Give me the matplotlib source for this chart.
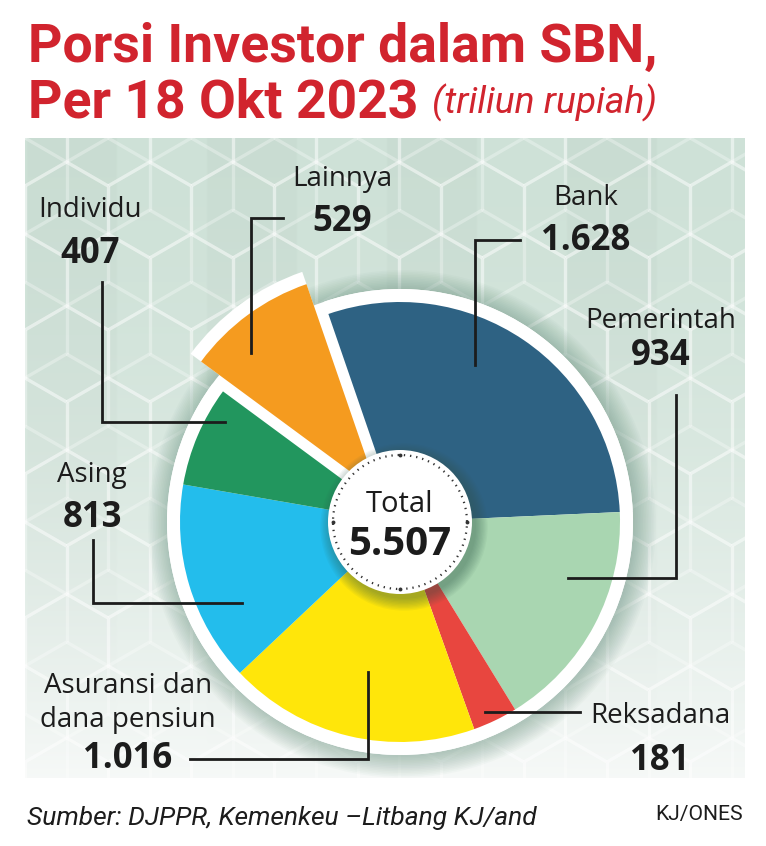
import numpy as np
import matplotlib
matplotlib.use('Agg')
import matplotlib.pyplot as plt
from matplotlib import font_manager as fm
from matplotlib.patches import Circle, Rectangle
from matplotlib.collections import LineCollection

# data
labels = ['Bank', 'Pemerintah', 'Reksadana', 'Asuransi dan\ndana pensiun', 'Asing', 'Individu', 'Lainnya']
values = [1628, 934, 181, 1016, 813, 407, 529]
value_text = ['1.628', '934', '181', '1.016', '813', '407', '529']
colors = ['#2e6283', '#a9d6b1', '#e8463f', '#ffe60a', '#23bdec', '#22965e', '#f59b1f']
total_text = '5.507'

W, H = 766, 846
names = {f.name for f in fm.fontManager.ttflist}
narrow = 'Liberation Sans Narrow' if 'Liberation Sans Narrow' in names else 'Roboto'
body = 'Open Sans' if 'Open Sans' in names else 'DejaVu Sans'
red = '#d1242e'
ink = '#1c1c1c'

fig = plt.figure(figsize=(W / 100, H / 100), dpi=100)
ax = fig.add_axes([0, 0, 1, 1])
ax.set_xlim(0, W)
ax.set_ylim(0, H)
ax.axis('off')


def Y(y):
    return H - y


# background panel with gradient and faint bands
x0, x1, y0, y1 = 25, 745, 138, 778
ny, nx = 320, 360
t = np.clip(np.linspace(0, 1, ny), 0, 1) ** 1.8
top = np.array([0.80, 0.875, 0.835])
bot = np.array([0.965, 0.975, 0.97])
img = top[None, None, :] * (1 - t[:, None, None]) + bot[None, None, :] * t[:, None, None]
img = np.repeat(img, nx, axis=1)
xs = np.linspace(x0, x1, nx)
band = ((xs - 27) // 90).astype(int) % 2
img = img + (band[None, :, None] * 0.018 - 0.009) * (1 - t[:, None, None])
ax.imshow(np.clip(img, 0, 1), extent=[x0, x1, Y(y1), Y(y0)], aspect='auto', zorder=0, interpolation='bilinear')

# cube pattern
R = 48
segs = []
dx = np.sqrt(3) * R
for row in range(-1, 12):
    for col in range(-1, 11):
        cx = x0 + col * dx + (dx / 2 if row % 2 else 0)
        cy = y0 + row * 1.5 * R
        vs = [(cx + R * np.cos(np.radians(a)), cy + R * np.sin(np.radians(a))) for a in range(30, 390, 60)]
        for i in range(6):
            segs.append([(vs[i][0], Y(vs[i][1])), (vs[(i + 1) % 6][0], Y(vs[(i + 1) % 6][1]))])
        for a in (90, 210, 330):
            segs.append([(cx, Y(cy)), (cx + R * np.cos(np.radians(a)), Y(cy - R * np.sin(np.radians(a))))])
lc = LineCollection(segs, colors='white', linewidths=2.4, alpha=0.3, zorder=1)
ax.add_collection(lc)
lc.set_clip_path(Rectangle((x0, Y(y1)), x1 - x0, y1 - y0, transform=ax.transData))

# pie
cx, cy = 400, Y(522)
for k in range(14):
    ax.add_patch(Circle((cx + 2, cy - 2), 233 + 1.6 * k, color='#4d7f68', alpha=0.03, lw=0, zorder=2))
ax.add_patch(Circle((cx, cy), 233, color='white', lw=0, zorder=3))
explode = [0, 0, 0, 0, 0, 0, 37]
ax.pie(values, radius=233, center=(cx, cy), startangle=109, counterclock=False,
       colors=['white'] * 7, explode=explode, frame=True,
       wedgeprops=dict(linewidth=0, zorder=3))
ax.pie(values, radius=220, center=(cx, cy), startangle=109, counterclock=False,
       colors=colors, explode=explode, frame=True,
       wedgeprops=dict(linewidth=0, zorder=4))

# center circle
for k in range(10):
    ax.add_patch(Circle((cx + 4, cy - 5), 72 + 1.3 * k, color='#2f5a4a', alpha=0.05, lw=0, zorder=5))
ax.add_patch(Circle((cx, cy), 72, color='white', lw=0, zorder=6))
ax.add_patch(Circle((cx, cy), 67, fill=False, ec='#333333', lw=1.6, ls=(0, (0.6, 2.2)), zorder=7))
for a in (0, 90, 180, 270):
    ax.plot(cx + 67 * np.cos(np.radians(a)), cy + 67 * np.sin(np.radians(a)), 'o', ms=2.8,
            mew=0, color='#333333', zorder=7)
ax.text(cx, Y(512), 'Total', ha='center', va='baseline', fontsize=21, family=body, color=ink, zorder=8)
ax.text(cx, Y(555), total_text, ha='center', va='baseline', fontsize=29, weight='bold', family=body, color=ink, zorder=8)

# labels: centre x, name baseline, value baseline
lab_pos = [(586, 205, 250), (661, 328, 365), (660, 723, 770), (128, 693, 768),
           (92, 482, 527), (90, 217, 263), (342, 186, 231)]
for name, vt, (lx, ny_, vy) in zip(labels, value_text, lab_pos):
    if '\n' in name:
        l1, l2 = name.split('\n')
        ax.text(lx, Y(ny_), l1, ha='center', va='baseline', fontsize=20, family=body, color=ink, zorder=8)
        ax.text(lx, Y(727), l2, ha='center', va='baseline', fontsize=20, family=body, color=ink, zorder=8)
    else:
        ax.text(lx, Y(ny_), name, ha='center', va='baseline', fontsize=20, family=body, color=ink, zorder=8)
    ax.text(lx, Y(vy), vt, ha='center', va='baseline', fontsize=25, weight='bold', family=body, color=ink, zorder=8)

# leader lines
leaders = [
    [(520, 240), (475, 240), (475, 365)],
    [(676, 395), (676, 578), (568, 578)],
    [(580, 712), (485, 712)],
    [(190, 759), (368, 759), (368, 672)],
    [(93, 540), (93, 603), (242, 603)],
    [(102, 282), (102, 422), (225, 422)],
    [(283, 218), (251, 218), (251, 353)],
]
for pts in leaders:
    ax.plot([p[0] for p in pts], [Y(p[1]) for p in pts], color=ink, lw=2.0, zorder=9, solid_joinstyle='miter')

# titles
t1 = ax.text(28, Y(62), 'Porsi Investor dalam SBN,', ha='left', va='baseline', fontsize=40,
             weight='bold', family=narrow, color=red)
t2 = ax.text(28, Y(117), 'Per 18 Okt 2023', ha='left', va='baseline', fontsize=40,
             weight='bold', family=narrow, color=red)
t3 = ax.text(432, Y(113), '(triliun rupiah)', ha='left', va='baseline', fontsize=24,
             style='italic', family=narrow, color=red)
s1 = ax.text(27, Y(825), 'Sumber: DJPPR, Kemenkeu \u2013Litbang KJ/and', ha='left', va='baseline',
             fontsize=20, style='italic', family=narrow, color=ink)
s2 = ax.text(743, Y(820), 'KJ/ONES', ha='right', va='baseline', fontsize=16, family=narrow, color=ink)

r = fig.canvas.get_renderer()
for txt, wpx in ((t1, 629), (t3, 226), (s1, 511), (s2, 88)):
    bb = txt.get_window_extent(r)
    txt.set_fontsize(txt.get_fontsize() * wpx / bb.width)
t2.set_fontsize(t1.get_fontsize())

ax.set_xlim(0, W)
ax.set_ylim(0, H)
fig.savefig('out.png', dpi=100, facecolor='white')
